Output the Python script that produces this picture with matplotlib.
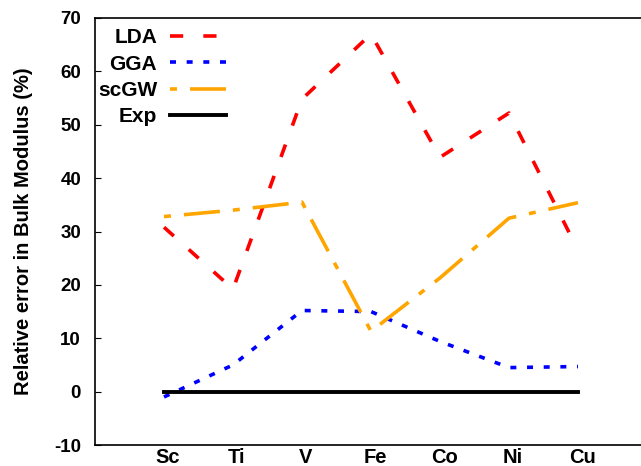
import matplotlib
matplotlib.use("Agg")
import matplotlib.pyplot as plt
import matplotlib.transforms as mtransforms

plt.rcParams['font.family'] = ['Liberation Sans', 'DejaVu Sans']
plt.rcParams['font.weight'] = 'bold'
plt.rcParams['lines.scale_dashes'] = False
plt.rcParams['axes.unicode_minus'] = False

elements = ["Sc", "Ti", "V", "Fe", "Co", "Ni", "Cu"]
lda = [30.8, 19.2, 54.8, 67.0, 43.9, 52.2, 26.5]
gga = [-1.0, 5.0, 15.2, 15.0, 9.4, 4.5, 4.7]
scgw = [32.8, 34.0, 35.5, 11.3, 21.3, 32.5, 35.4]
exp = [0, 0, 0, 0, 0, 0, 0]
yticks = [-10, 0, 10, 20, 30, 40, 50, 60, 70]

x = list(range(1, len(elements) + 1))

fig = plt.figure(figsize=(6.41, 4.66), dpi=100)
ax = fig.add_axes([95/641, 1-445/466, 552/641, 427/466])

ax.plot(x, lda, color='#ff0000', lw=2.6, dashes=(9.5, 14.5), label='LDA')
ax.plot(x, gga, color='#0000ff', lw=2.6, dashes=(4.3, 7.7), label='GGA')
ax.plot(x, scgw, color='#ffa500', lw=2.6, dashes=(5, 9.4, 26, 9.4), dash_capstyle='butt', label='scGW')
ax.plot(x, exp, color='black', lw=2.8, label='Exp')

ax.set_xlim(0, 8)
ax.set_ylim(-10, 70)
ax.set_yticks(yticks)
ax.set_xticks(x)
ax.set_xticklabels(elements, fontsize=14.5, fontweight='bold')
ax.tick_params(axis='x', length=0, pad=2)
ax.tick_params(axis='y', direction='in', length=4, labelsize=13.5, pad=10)
for lab in ax.get_yticklabels():
    lab.set_fontweight('bold')
offset = mtransforms.ScaledTranslation(4/100, 0, fig.dpi_scale_trans)
for lab in ax.get_xticklabels():
    lab.set_transform(lab.get_transform() + offset)

ax.spines['right'].set_visible(False)
for s in ['left', 'bottom', 'top']:
    ax.spines[s].set_linewidth(1.2)

ax.set_ylabel('Relative error in Bulk Modulus (%)', fontsize=14.5, fontweight='bold', labelpad=15)

leg = fig.legend(*ax.get_legend_handles_labels(), loc='upper right',
                 bbox_to_anchor=(226/641, 1-28/466), frameon=False,
                 markerfirst=False, handlelength=2.7, fontsize=15,
                 labelspacing=0.36, handletextpad=0.6, borderpad=0, borderaxespad=0)
for t in leg.get_texts():
    t.set_fontweight('bold')
    t.set_ha('right')
leg._legend_box.align = 'right'

fig.savefig('out.png', dpi=100)
